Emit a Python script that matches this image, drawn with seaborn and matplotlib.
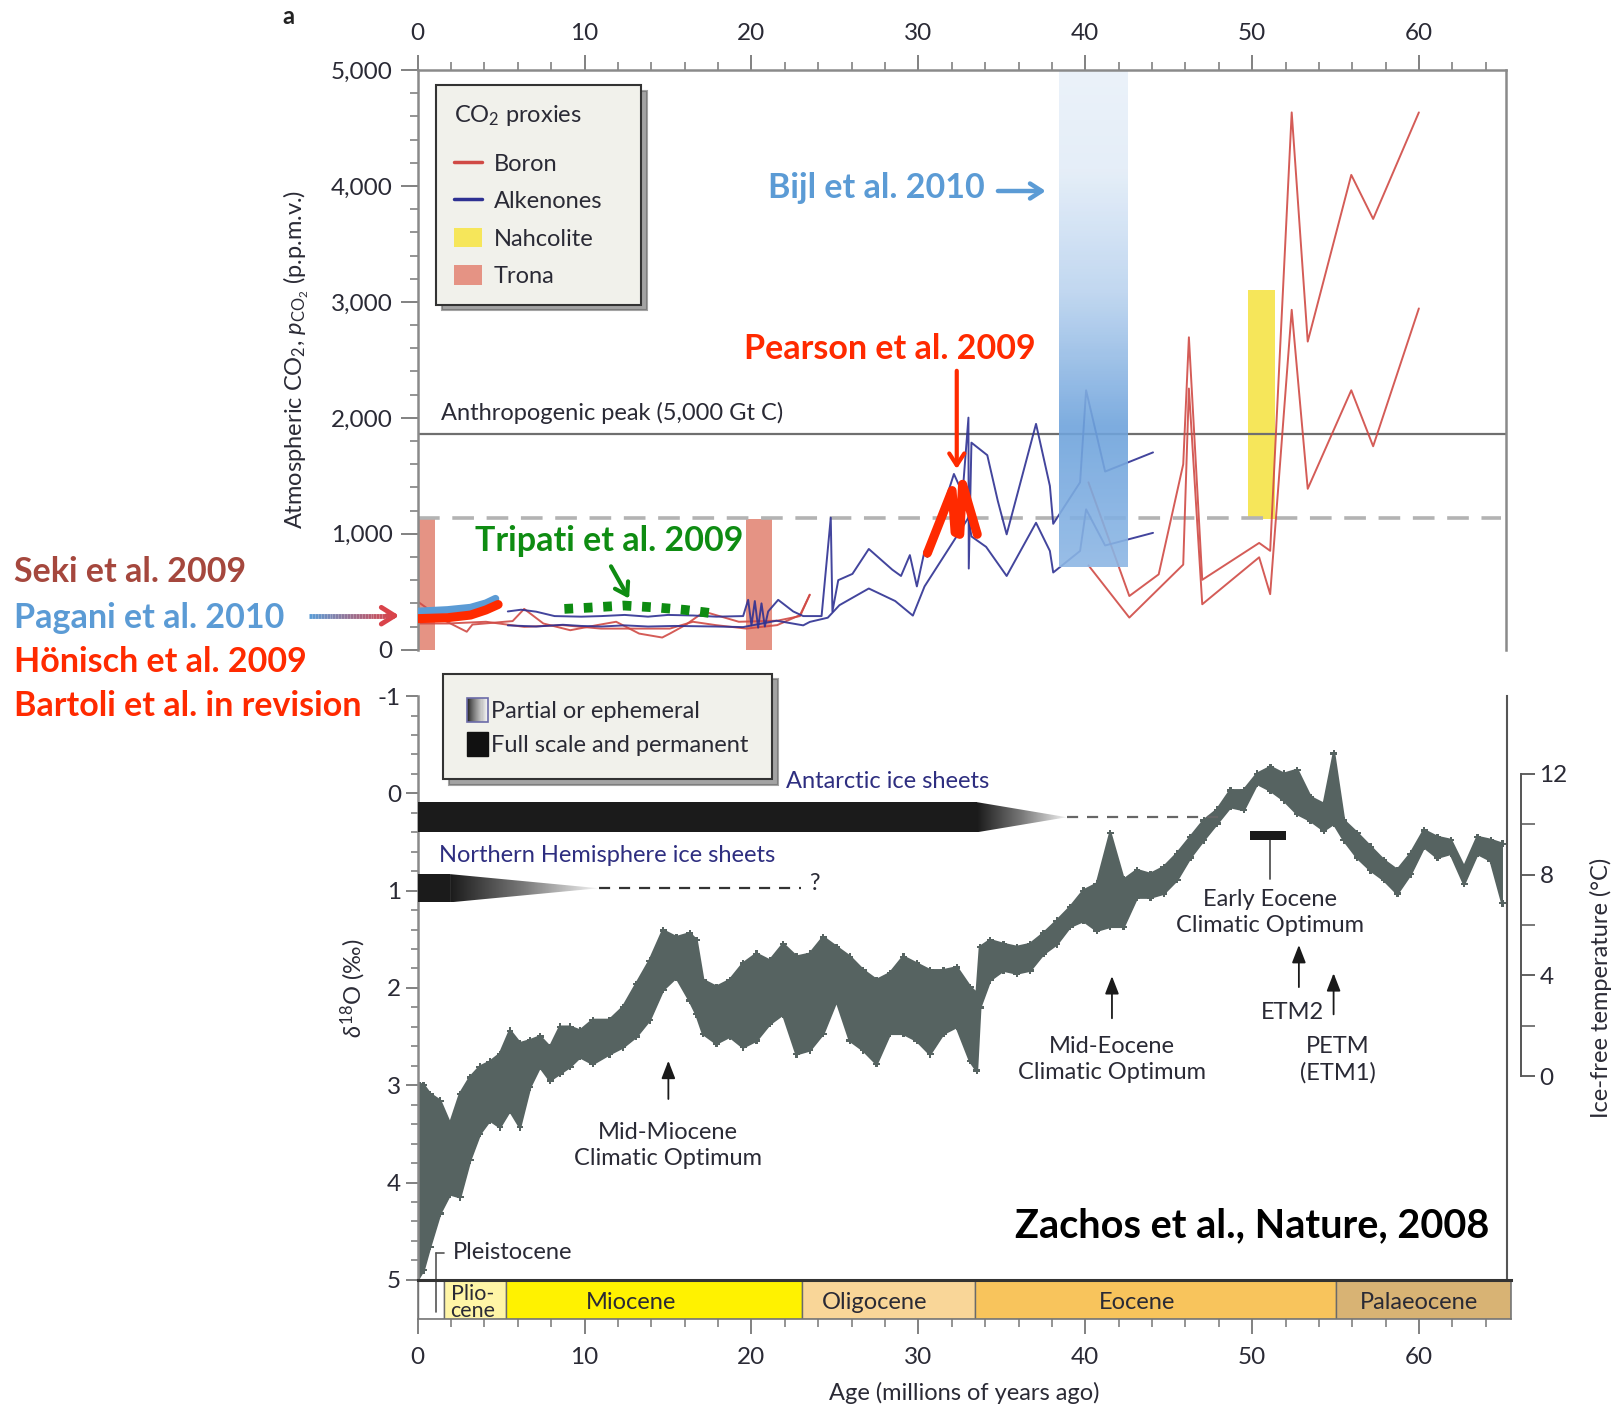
import numpy as np
import pandas as pd
import matplotlib
matplotlib.use('Agg')
import matplotlib.pyplot as plt
import seaborn as sns
from matplotlib.patches import Rectangle, Polygon, Patch
from matplotlib.lines import Line2D
from matplotlib.colors import LinearSegmentedColormap
from matplotlib.legend_handler import HandlerBase
from matplotlib.ticker import FuncFormatter, MultipleLocator, FixedLocator
from matplotlib.collections import LineCollection

# ---------------------------------------------------------------- data
# Boron pCO2 (Myr, ppm) - Neogene part, two bounding curves
boron_mio_a_age = [0.0, 1.56, 2.94, 3.28, 5.69, 6.38, 7.53, 9.14, 10.75, 11.89, 13.27, 14.65, 15.11, 16.03, 17.17, 19.24, 21.54, 22.91, 23.49]
boron_mio_a_ppm = [415, 255, 155, 217, 247, 352, 226, 168, 212, 241, 139, 105, 139, 212, 328, 241, 250, 290, 474]
boron_mio_b_age = [0.0, 1.79, 4.09, 6.38, 8.68, 10.98, 13.27, 15.11, 16.49, 17.86, 19.70, 21.54, 22.91, 23.49]
boron_mio_b_ppm = [226, 226, 241, 197, 212, 182, 182, 182, 241, 212, 182, 212, 299, 474]
# Boron pCO2 - Palaeogene part
boron_eo_up_age = [40.19, 42.64, 44.40, 45.87, 46.21, 47.01, 50.42, 51.08, 52.37, 53.33, 55.94, 57.25, 59.99]
boron_eo_up_ppm = [1444, 463, 650, 1600, 2695, 603, 921, 853, 4635, 2658, 4096, 3716, 4635]
boron_eo_lo_age = [40.19, 42.64, 45.87, 46.21, 47.01, 50.42, 51.08, 52.37, 53.33, 55.94, 57.25, 59.99]
boron_eo_lo_ppm = [728, 277, 734, 2253, 392, 797, 479, 2932, 1388, 2238, 1755, 2944]
# Alkenone pCO2
alk_up_age = [5.4, 6.2, 7.1, 8.2, 9.8, 11.0, 12.4, 13.8, 15.0, 16.5, 17.9, 19.5, 19.8, 20.0, 20.2, 20.4, 20.6, 20.8,
              21.0, 21.6, 22.5, 23.1, 24.2, 24.75, 24.85, 25.2, 26.05, 27.03, 28.44, 28.96, 29.49, 29.91, 30.37, 30.54,
              32.13, 32.65, 33.0, 33.02, 33.18, 34.13, 34.76, 35.29, 37.05, 37.88, 38.08, 39.69, 40.05, 41.19, 44.06]
alk_up_ppm = [330, 345, 328, 290, 285, 290, 300, 285, 300, 295, 285, 290, 430, 210, 420, 190, 400, 200,
              330, 430, 330, 290, 290, 1139, 330, 600, 654, 869, 690, 636, 816, 546, 851, 800,
              1516, 1350, 2002, 700, 1786, 1678, 1283, 995, 1948, 1413, 1086, 1444, 2238, 1537, 1702]
alk_lo_age = [5.4, 7.1, 8.7, 9.8, 11.0, 12.4, 13.8, 15.4, 17.9, 19.5, 21.5, 23.1, 23.5, 24.57, 25.27, 27.03, 28.61,
              29.67, 30.37, 32.13, 33.0, 33.18, 34.06, 35.29, 37.05, 37.88, 38.08, 39.69, 40.05, 41.19, 44.06]
alk_lo_ppm = [210, 200, 215, 205, 200, 210, 200, 205, 200, 195, 250, 210, 240, 276, 384, 528, 420,
              294, 546, 941, 1139, 977, 887, 636, 1095, 852, 666, 852, 1211, 899, 1008]
# mineral proxies (start Myr, end Myr, low ppm, high ppm)
trona_start = [0.0, 19.65]
trona_end = [1.05, 21.2]
trona_low = [0, 0]
trona_high = [1130, 1130]
nahcolite_start = [49.75]
nahcolite_end = [51.36]
nahcolite_low = [1130]
nahcolite_high = [3100]
bijl_range = [38.44, 42.56]
bijl_ppm = [712, 5000]
anthropogenic_peak = 1858
dashed_level = 1139
# highlighted recent studies
pagani_age = [0, 1.79, 3.17, 4.09, 4.66]
pagani_ppm = [330, 343, 363, 401, 440]
honisch_age = [0, 1.79, 3.17, 4.09, 4.82]
honisch_ppm = [268, 276, 299, 343, 390]
tripati_age = [8.79, 10.29, 12.35, 14.42, 16.03, 17.17, 17.86]
tripati_ppm = [352, 363, 381, 363, 343, 323, 310]
pearson_age = [30.54, 32.02, 32.2, 32.48, 32.65, 33.53]
pearson_ppm = [833, 1373, 1013, 995, 1427, 995]

# Benthic d18O compilation: envelope of the data cloud
d18o_age = [0, 0.35, 0.74, 1.34, 1.94, 2.54, 3.14, 3.73, 4.33, 4.93, 5.53, 6.13, 6.73, 7.33, 7.93, 8.53, 9.13, 9.73,
            10.5, 11.5, 12.3, 13.1, 13.9, 14.7, 15.5, 16.3, 16.7, 17.1, 17.9, 18.7, 19.5, 20.3, 21.1, 21.9, 22.7,
            23.5, 24.3, 25.1, 25.9, 26.7, 27.5, 28.3, 29.1, 29.9, 30.7, 31.5, 32.3, 33.1, 33.5, 33.7, 34.3, 35.1,
            35.9, 36.7, 37.5, 38.3, 39.1, 39.9, 40.7, 41.5, 42.3, 43.1, 43.9, 44.7, 45.5, 46.3, 47.1, 47.9, 48.7,
            49.5, 50.3, 51.1, 51.9, 52.7, 53.5, 54.3, 54.9, 55.5, 56.3, 57.1, 57.9, 58.7, 59.5, 60.3, 61.1, 61.9,
            62.7, 63.5, 64.3, 65.0]
d18o_min = [2.98, 3.0, 3.09, 3.16, 3.40, 3.09, 2.92, 2.81, 2.76, 2.68, 2.44, 2.57, 2.54, 2.50, 2.61, 2.40, 2.40, 2.44,
            2.33, 2.33, 2.20, 1.96, 1.72, 1.41, 1.48, 1.44, 1.51, 1.92, 1.99, 1.92, 1.75, 1.65, 1.72, 1.55, 1.68,
            1.65, 1.48, 1.58, 1.68, 1.82, 1.92, 1.85, 1.68, 1.75, 1.82, 1.82, 1.79, 1.99, 2.06, 1.58, 1.51, 1.55,
            1.58, 1.55, 1.44, 1.31, 1.17, 1.00, 0.93, 0.41, 0.89, 0.79, 0.83, 0.76, 0.62, 0.45, 0.28, 0.17, -0.03,
            -0.03, -0.20, -0.27, -0.20, -0.24, 0.04, 0.11, -0.41, 0.28, 0.41, 0.55, 0.69, 0.79, 0.62, 0.38, 0.45,
            0.48, 0.76, 0.45, 0.48, 0.52]
d18o_max = [5.0, 4.9, 4.66, 4.32, 4.12, 4.15, 3.77, 3.50, 3.36, 3.43, 3.26, 3.43, 3.02, 2.81, 2.95, 2.88, 2.81, 2.71,
            2.78, 2.68, 2.61, 2.50, 2.33, 2.02, 1.89, 2.13, 2.27, 2.47, 2.57, 2.50, 2.61, 2.54, 2.37, 2.27, 2.68,
            2.64, 2.47, 2.13, 2.54, 2.64, 2.78, 2.47, 2.47, 2.54, 2.68, 2.47, 2.40, 2.75, 2.85, 2.20, 1.92, 1.82,
            1.85, 1.82, 1.65, 1.55, 1.37, 1.31, 1.41, 1.37, 1.37, 1.07, 1.07, 1.03, 0.89, 0.66, 0.48, 0.31, 0.14,
            0.17, -0.10, -0.03, 0.07, 0.21, 0.28, 0.38, 0.31, 0.48, 0.66, 0.79, 0.89, 1.03, 0.83, 0.55, 0.66, 0.62,
            0.93, 0.62, 0.69, 1.13]

# ice sheets (Myr): full-scale end, partial end, uncertain (dashed) end
antarctic_ages = [33.5, 38.9, 48.3]
antarctic_d18o = [0.09, 0.40]
nh_ages = [1.94, 10.84, 22.98]
nh_d18o = [0.83, 1.12]
eeco_range = [49.9, 52.0]

# epochs
epoch_names = ['', 'Plio-\ncene', 'Miocene', 'Oligocene', 'Eocene', 'Palaeocene']
epoch_start = [0.0, 1.6, 5.3, 23.0, 33.4, 55.0]
epoch_end = [1.6, 5.3, 23.0, 33.4, 55.0, 65.5]
epoch_label_age = [0.8, 3.3, 12.8, 27.4, 43.1, 60.0]
epoch_colors = ['#ffffff', '#fff5a6', '#fff200', '#f9d698', '#f8c45c', '#d8b374']

# temperature scale (ice-free), linear in d18O
temp_ref_d18o = [-0.2, 2.906]
temp_ref_c = [12, 0]

# ---------------------------------------------------------------- style
sns.set_theme(style='ticks')
plt.rcParams['font.family'] = ['Lato', 'DejaVu Sans']
plt.rcParams['mathtext.fontset'] = 'custom'
plt.rcParams['mathtext.rm'] = 'Lato'
plt.rcParams['mathtext.it'] = 'Lato:italic'
plt.rcParams['mathtext.bf'] = 'Lato:bold'
plt.rcParams['axes.unicode_minus'] = False

BORON = '#d04a45'
ALK = '#2e3192'
NAHC = '#f6e65a'
TRONA = '#e59384'
GRAYD = '#566361'
TXT = '#2a2a35'
SPINE = '#8a8a8a'
FS = 17
TFS = 17.5
CFS = 24.5

W, H = 1617, 1413
PX = 16.689
L = 417.7

fig = plt.figure(figsize=(W / 100, H / 100), dpi=100)


def rect(left, top, width, height):
    return [left / W, 1 - (top + height) / H, width / W, height / H]


ax1 = fig.add_axes(rect(L, 70.1, 65.2 * PX, 649.7 - 70.1))
ax2 = fig.add_axes(rect(L, 696.1, 65.3 * PX, 1279.8 - 696.1))
ax3 = fig.add_axes(rect(L, 1279.8, 65.5 * PX, 1319.0 - 1279.8))

# ---------------------------------------------------------------- top panel (CO2)
for s, e, lo, hi in zip(trona_start, trona_end, trona_low, trona_high):
    ax1.add_patch(Rectangle((s, lo), e - s, hi - lo, facecolor=TRONA, edgecolor='none', zorder=1))
for s, e, lo, hi in zip(nahcolite_start, nahcolite_end, nahcolite_low, nahcolite_high):
    ax1.add_patch(Rectangle((s, lo), e - s, hi - lo, facecolor=NAHC, edgecolor='none', zorder=1.2))

ax1.plot([0, 65.2], [anthropogenic_peak] * 2, color='#6f6f6f', lw=1.6, zorder=1.5)
ax1.plot([0, 64.9], [dashed_level] * 2, color='#b3b3b3', lw=2.6, ls=(0, (6, 3.5)), zorder=1.5)

boron_df = pd.concat([
    pd.DataFrame({'age': boron_mio_a_age, 'ppm': boron_mio_a_ppm, 'seg': 'ma'}),
    pd.DataFrame({'age': boron_mio_b_age, 'ppm': boron_mio_b_ppm, 'seg': 'mb'}),
    pd.DataFrame({'age': boron_eo_up_age, 'ppm': boron_eo_up_ppm, 'seg': 'eu'}),
    pd.DataFrame({'age': boron_eo_lo_age, 'ppm': boron_eo_lo_ppm, 'seg': 'el'}),
])
alk_df = pd.concat([
    pd.DataFrame({'age': alk_up_age, 'ppm': alk_up_ppm, 'seg': 'u'}),
    pd.DataFrame({'age': alk_lo_age, 'ppm': alk_lo_ppm, 'seg': 'l'}),
])
sns.lineplot(data=boron_df, x='age', y='ppm', units='seg', estimator=None, sort=False,
             color=BORON, lw=1.4, alpha=0.9, ax=ax1, legend=False, zorder=2)
sns.lineplot(data=alk_df, x='age', y='ppm', units='seg', estimator=None, sort=False,
             color=ALK, lw=1.4, alpha=0.9, ax=ax1, legend=False, zorder=2.1)

# Bijl et al. gradient bar
bijl_cmap = LinearSegmentedColormap.from_list('bijl', [(0, '#e9f1fa'), (0.2, '#e3edf8'), (0.45, '#bad3ef'),
                                                      (0.72, '#6ea3dc'), (1.0, '#8db7e5')])
grad = np.linspace(0, 1, 256).reshape(-1, 1)
ax1.imshow(grad, extent=[bijl_range[0], bijl_range[1], bijl_ppm[0], bijl_ppm[1]], origin='upper',
           aspect='auto', cmap=bijl_cmap, alpha=0.9, zorder=2.5)

# highlighted studies
sns.lineplot(x=pagani_age, y=pagani_ppm, color='#5b9bd5', lw=5.5, ax=ax1, zorder=5, sort=False, estimator=None)
sns.lineplot(x=honisch_age, y=honisch_ppm, color='#ff2a00', lw=6.5, ax=ax1, zorder=5.1, sort=False, estimator=None)
ax1.plot(tripati_age, tripati_ppm, color='#0e8c12', lw=7, ls=(0, (0.9, 1.1)), solid_capstyle='butt',
         dash_capstyle='butt', zorder=5)
ax1.plot(pearson_age, pearson_ppm, color='#ff2a00', lw=6.5, solid_joinstyle='round', zorder=5)

ax1.set_xlim(0, 65.2)
ax1.set_ylim(0, 5000)
ax1.set_xlabel('')
ax1.set_ylabel(r'Atmospheric CO$_2$, $p_{\mathrm{CO}_2}$ (p.p.m.v.)', fontsize=FS, color=TXT, labelpad=14)
ax1.xaxis.tick_top()
ax1.set_xticks(range(0, 61, 10))
ax1.xaxis.set_minor_locator(MultipleLocator(2))
ax1.set_yticks(range(0, 5001, 1000))
ax1.yaxis.set_minor_locator(MultipleLocator(200))
ax1.yaxis.set_major_formatter(FuncFormatter(lambda v, p: f'{int(v):,}'))
ax1.tick_params(axis='x', which='major', top=True, bottom=False, labeltop=True, labelbottom=False,
                direction='out', length=11, width=1.3, color='#777', pad=8, labelsize=TFS, labelcolor=TXT)
ax1.tick_params(axis='x', which='minor', top=True, bottom=False, direction='out', length=6, width=1.1, color='#777')
ax1.tick_params(axis='y', which='major', direction='out', length=12, width=1.3, color='#777', pad=6,
                labelsize=TFS, labelcolor=TXT)
ax1.tick_params(axis='y', which='minor', direction='out', length=6, width=1.1, color='#777')
ax1.spines['bottom'].set_visible(False)
for sp in ['top', 'left', 'right']:
    ax1.spines[sp].set_color(SPINE)
    ax1.spines[sp].set_linewidth(1.8)

# texts & arrows in top panel
ax1.text(1.42, 2046, 'Anthropogenic peak (5,000 Gt C)', fontsize=FS, color=TXT, va='center', ha='left')
ax1.text(34.0, 3985, 'Bijl et al. 2010', fontsize=CFS, fontweight='bold', color='#5b9bd5', ha='right', va='center')
ax1.annotate('', xy=(37.8, 3957), xytext=(34.6, 3957),
             arrowprops=dict(arrowstyle='->,head_length=0.7,head_width=0.45', color='#5b9bd5', lw=3.2))
ax1.text(28.3, 2597, 'Pearson et al. 2009', fontsize=CFS, fontweight='bold', color='#ff2a00', ha='center', va='center')
ax1.annotate('', xy=(32.3, 1535), xytext=(32.3, 2430),
             arrowprops=dict(arrowstyle='->,head_length=0.7,head_width=0.45', color='#ff2a00', lw=3))
ax1.text(11.5, 934, 'Tripati et al. 2009', fontsize=CFS, fontweight='bold', color='#0e8c12', ha='center', va='center')
ax1.annotate('', xy=(12.75, 420), xytext=(11.5, 740),
             arrowprops=dict(arrowstyle='->,head_length=0.7,head_width=0.45', color='#0e8c12', lw=3))

h_co2 = [Line2D([], [], color=BORON, lw=2.5), Line2D([], [], color=ALK, lw=2.5),
         Patch(facecolor=NAHC, edgecolor='none'), Patch(facecolor=TRONA, edgecolor='none')]
leg1 = ax1.legend(h_co2, ['Boron', 'Alkenones', 'Nahcolite', 'Trona'], title='CO$_2$ proxies\n',
                  loc='upper left', bbox_to_anchor=(0.0168, 0.574, 0.1886, 0.4), mode='expand',
                  borderaxespad=0, frameon=True,
                  fancybox=False, shadow={'ox': 4, 'oy': -4, 'color': '#666', 'alpha': 0.6},
                  framealpha=1, facecolor='#f1f1eb', edgecolor='#333',
                  fontsize=FS, title_fontsize=FS, handlelength=1.2, handleheight=0.9, labelspacing=0.66,
                  borderpad=0.75, handletextpad=0.5, alignment='left')
leg1.get_frame().set_linewidth(1.5)
leg1.get_title().set_linespacing(0.3)
for t in leg1.get_texts():
    t.set_color(TXT)
leg1.get_title().set_color(TXT)

# ---------------------------------------------------------------- bottom panel (d18O)
ax2.fill_between(d18o_age, d18o_min, d18o_max, color=GRAYD, lw=0, zorder=2)
d18o_df = pd.DataFrame({'age': d18o_age * 2, 'd18o': d18o_min + d18o_max,
                        'edge': ['min'] * len(d18o_age) + ['max'] * len(d18o_age)})
sns.lineplot(data=d18o_df, x='age', y='d18o', units='edge', estimator=None, sort=False,
             color=GRAYD, lw=2.0, ax=ax2, legend=False, zorder=2)
sns.scatterplot(data=d18o_df, x='age', y='d18o', marker='P', s=25, color=GRAYD, edgecolor='none',
                ax=ax2, legend=False, zorder=2)


def grad_triangle(ax, x0, x1, y0, y1):
    cmap = LinearSegmentedColormap.from_list('ice', ['#1b1b1b', '#7a7a7a', '#f4f4f4'])
    g = np.linspace(0, 1, 256).reshape(1, -1)
    im = ax.imshow(g, extent=[x0, x1, y1, y0], aspect='auto', cmap=cmap, zorder=3)
    tri = Polygon([(x0, y0), (x0, y1), (x1, (y0 + y1) / 2)], closed=True, facecolor='none',
                  edgecolor='none', transform=ax.transData)
    ax.add_patch(tri)
    im.set_clip_path(tri)


# Antarctic ice sheets
ax2.add_patch(Rectangle((0, antarctic_d18o[0]), antarctic_ages[0], antarctic_d18o[1] - antarctic_d18o[0],
                        facecolor='#1b1b1b', edgecolor='none', zorder=3))
grad_triangle(ax2, antarctic_ages[0], antarctic_ages[1], antarctic_d18o[0], antarctic_d18o[1])
ax2.plot([antarctic_ages[1], antarctic_ages[2]], [sum(antarctic_d18o) / 2] * 2, color='#666', lw=1.6,
         ls=(0, (5, 4)), zorder=3)
# Northern Hemisphere ice sheets
ax2.add_patch(Rectangle((0, nh_d18o[0]), nh_ages[0], nh_d18o[1] - nh_d18o[0],
                        facecolor='#1b1b1b', edgecolor='none', zorder=3))
grad_triangle(ax2, nh_ages[0], nh_ages[1], nh_d18o[0], nh_d18o[1])
ax2.plot([nh_ages[1], nh_ages[2]], [sum(nh_d18o) / 2] * 2, color='#333', lw=1.6, ls=(0, (5, 4)), zorder=3)
ax2.text(23.45, 0.93, '?', fontsize=FS, color=TXT, va='center', ha='left')
ax2.text(22.07, -0.12, 'Antarctic ice sheets', fontsize=FS, color='#2e2e80', va='center', ha='left')
ax2.text(1.27, 0.64, 'Northern Hemisphere ice sheets', fontsize=FS, color='#2e2e80', va='center', ha='left')

# climate events
arrow_kw = dict(arrowstyle='-|>,head_length=0.9,head_width=0.35', color='#1a1a1a', lw=1.3)
ax2.text(15.02, 3.62, 'Mid-Miocene\nClimatic Optimum', fontsize=FS, color=TXT, ha='center', va='center',
         linespacing=1.3)
ax2.annotate('', xy=(15.02, 2.72), xytext=(15.02, 3.17), arrowprops=arrow_kw)
ax2.text(41.6, 2.74, 'Mid-Eocene\nClimatic Optimum', fontsize=FS, color=TXT, ha='center', va='center',
         linespacing=1.3)
ax2.annotate('', xy=(41.6, 1.85), xytext=(41.6, 2.34), arrowprops=arrow_kw)
ax2.text(51.05, 1.22, 'Early Eocene\nClimatic Optimum', fontsize=FS, color=TXT, ha='center', va='center',
         linespacing=1.3)
ax2.add_patch(Rectangle((eeco_range[0], 0.39), eeco_range[1] - eeco_range[0], 0.09, facecolor='#1a1a1a',
                        edgecolor='none', zorder=3))
ax2.plot([51.05, 51.05], [0.48, 0.88], color='#555', lw=1.3)
ax2.text(52.4, 2.25, 'ETM2', fontsize=FS, color=TXT, ha='center', va='center')
ax2.annotate('', xy=(52.8, 1.53), xytext=(52.8, 2.02), arrowprops=arrow_kw)
ax2.text(55.13, 2.74, 'PETM\n(ETM1)', fontsize=FS, color=TXT, ha='center', va='center', linespacing=1.3)
ax2.annotate('', xy=(54.88, 1.82), xytext=(54.88, 2.3), arrowprops=arrow_kw)
ax2.text(64.2, 4.44, 'Zachos et al., Nature, 2008', fontsize=28.5, fontweight='bold', color='black',
         ha='right', va='center')
# Pleistocene bracket
ax2.plot([1.09, 1.09], [4.72, 5.0], color='#555', lw=1.2, zorder=4)
ax2.plot([1.09, 1.55], [4.72, 4.72], color='#555', lw=1.2, zorder=4)
ax2.text(2.1, 4.72, 'Pleistocene', fontsize=FS, color=TXT, va='center', ha='left')

ax2.set_xlim(0, 65.3)
ax2.set_ylim(5, -1)
ax2.set_xticks([])
ax2.set_xlabel('')
ax2.set_yticks(range(-1, 6))
ax2.yaxis.set_minor_locator(MultipleLocator(0.2))
ax2.set_ylabel(r'$\delta^{18}$O (‰)', fontsize=FS, color=TXT, labelpad=7)
ax2.tick_params(axis='y', which='major', direction='out', length=9, width=1.3, color='#777', pad=3,
                labelsize=TFS, labelcolor=TXT)
ax2.tick_params(axis='y', which='minor', direction='out', length=5, width=1.1, color='#777')
ax2.spines['top'].set_visible(False)
ax2.spines['bottom'].set_visible(False)
ax2.spines['left'].set_color(SPINE)
ax2.spines['left'].set_linewidth(1.8)
ax2.spines['right'].set_color('#555')
ax2.spines['right'].set_linewidth(1.5)


# legend for ice sheets
class GradientHandler(HandlerBase):
    def create_artists(self, legend, orig_handle, xdescent, ydescent, width, height, fontsize, trans):
        n = 20
        arts = []
        for i in range(n):
            v = 0.12 + 0.85 * (i / (n - 1)) ** 0.8
            arts.append(Rectangle((-xdescent + width * i / n, -ydescent), width / n + 0.3, height,
                                  facecolor=(v, v, v), edgecolor='none', transform=trans))
        arts.append(Rectangle((-xdescent, -ydescent), width, height, facecolor='none', edgecolor='#6b6ba8',
                              lw=1.2, transform=trans))
        return arts


grad_handle = Patch(facecolor='#888')
h_ice = [grad_handle, Patch(facecolor='#111', edgecolor='#111')]
leg2 = ax2.legend(h_ice, ['Partial or ephemeral', 'Full scale and permanent'], loc='upper left',
                  bbox_to_anchor=(0.0232, 1.038), borderaxespad=0, frameon=True, fancybox=False,
                  shadow={'ox': 4, 'oy': -4, 'color': '#666', 'alpha': 0.6},
                  framealpha=1, facecolor='#f1f1eb', edgecolor='#333', fontsize=FS, handlelength=0.9,
                  handleheight=1.2, labelspacing=0.42, borderpad=1.0, handletextpad=0.15,
                  handler_map={grad_handle: GradientHandler()})
leg2.get_frame().set_linewidth(1.5)
for t in leg2.get_texts():
    t.set_color(TXT)

# temperature axis
axT = ax2.twinx()
slope = (temp_ref_c[1] - temp_ref_c[0]) / (temp_ref_d18o[1] - temp_ref_d18o[0])
t_of = lambda d: temp_ref_c[0] + slope * (d - temp_ref_d18o[0])
axT.set_ylim(t_of(5), t_of(-1))
for sp in ['top', 'left', 'bottom']:
    axT.spines[sp].set_visible(False)
axT.spines['right'].set_position(('outward', 10))
axT.spines['right'].set_bounds(0, 12)
axT.spines['right'].set_color('#555')
axT.spines['right'].set_linewidth(1.4)
axT.set_yticks([0, 4, 8, 12])
axT.yaxis.set_minor_locator(FixedLocator([2, 6, 10]))
axT.tick_params(axis='y', which='major', direction='out', length=10, width=1.3, color='#555', pad=3,
                labelsize=TFS, labelcolor=TXT, right=True, left=False)
axT.tick_params(axis='y', which='minor', direction='out', length=10, width=1.1, color='#555', right=True,
                left=False)
axT.set_ylabel('Ice-free temperature (°C)', fontsize=FS, color=TXT, labelpad=16)

# ---------------------------------------------------------------- epoch bar
ax3.bar(x=epoch_start, height=1, width=np.array(epoch_end) - np.array(epoch_start), bottom=0, align='edge',
        color=epoch_colors, edgecolor='#6a6a6a', linewidth=1.0)
for n, xa in zip(epoch_names, epoch_label_age):
    if n:
        ax3.text(xa, 0.42, n, fontsize=FS if '\n' not in n else 15.5, color=TXT, ha='center', va='center',
                 linespacing=0.85)
ax3.plot([1.09, 1.09], [1.0, 0.18], color='#555', lw=1.2)
ax3.set_xlim(0, 65.5)
ax3.set_ylim(0, 1)
ax3.set_yticks([])
ax3.set_xticks(range(0, 61, 10))
ax3.xaxis.set_minor_locator(MultipleLocator(2))
ax3.tick_params(axis='x', which='major', direction='out', length=11, width=1.3, color='#777', pad=9,
                labelsize=TFS, labelcolor=TXT)
ax3.tick_params(axis='x', which='minor', direction='out', length=6, width=1.1, color='#777')
ax3.set_xlabel('Age (millions of years ago)', fontsize=FS, color=TXT, labelpad=10)
ax3.spines['top'].set_color('#333')
ax3.spines['top'].set_linewidth(2.2)
for sp in ['left', 'right', 'bottom']:
    ax3.spines[sp].set_color('#777')
    ax3.spines[sp].set_linewidth(1.2)

# ---------------------------------------------------------------- figure-level labels
fig.text(288 / W, 1 - 17 / H, 'a', fontsize=17, fontweight='bold', color='#222', ha='center', va='center')
cites = [('Seki et al. 2009', '#a5473d', 572), ('Pagani et al. 2010', '#5b9bd5', 618),
         ('Hönisch et al. 2009', '#ff2a00', 662), ('Bartoli et al. in revision', '#ff2a00', 706)]
for txt, col, y in cites:
    fig.text(14.4 / W, 1 - y / H, txt, fontsize=CFS, fontweight='bold', color=col, ha='left', va='center')

# gradient arrow (Pagani / Hönisch)
ya = 1 - 615.7 / H
xs = np.linspace(309, 394, 30) / W
segs = [[(xs[i], ya), (xs[i + 1], ya)] for i in range(len(xs) - 1)]
cmap_arrow = LinearSegmentedColormap.from_list('ar', ['#5b9bd5', '#d9434a'])
lc = LineCollection(segs, colors=[cmap_arrow(i / (len(segs) - 1)) for i in range(len(segs))], linewidths=3.5,
                    transform=fig.transFigure)
fig.add_artist(lc)
ax1.annotate('', xy=(402 / W, ya), xytext=(384 / W, ya), xycoords='figure fraction',
             textcoords='figure fraction',
             arrowprops=dict(arrowstyle='->,head_length=0.8,head_width=0.5', color='#d9434a', lw=3.5),
             annotation_clip=False)

fig.savefig('out.png', dpi=100)
